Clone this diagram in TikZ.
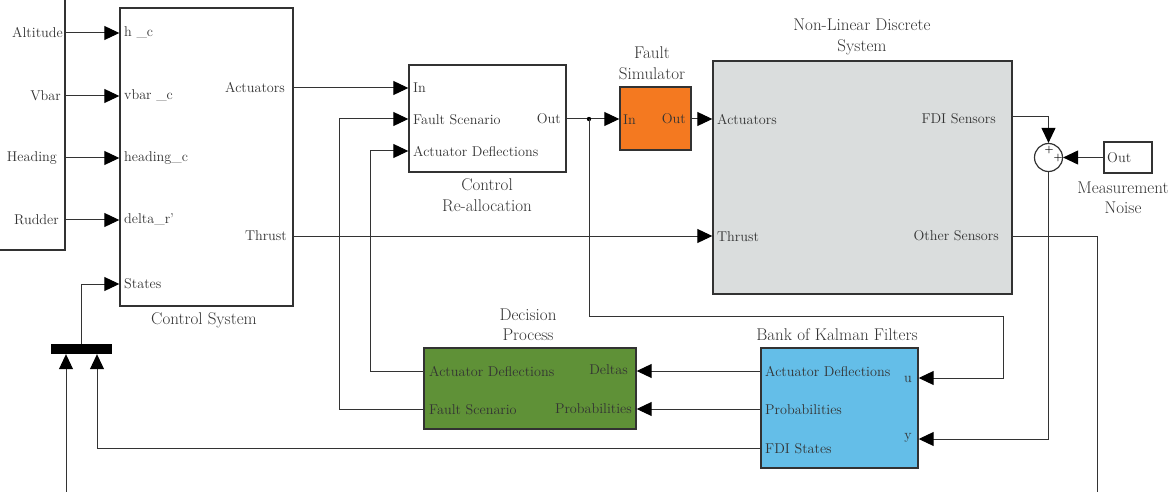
\documentclass[tikz,border=0pt]{standalone}
\usetikzlibrary{arrows.meta}
\definecolor{fsorange}{RGB}{244,121,32}
\definecolor{dpgreen}{RGB}{95,145,55}
\definecolor{kfblue}{RGB}{100,190,232}
\definecolor{nldgray}{RGB}{218,221,221}
\definecolor{ink}{RGB}{50,50,50}
\begin{document}
\begin{tikzpicture}[x=1pt,y=-1pt,
  blk/.style={draw=ink,line width=1.4pt,rectangle,inner sep=0pt},
  wire/.style={draw=black!80,line width=1pt},
  arr/.style={-{Triangle[length=15pt,width=14pt,color=black]}},
  port/.style={font=\fontsize{14.2}{16}\selectfont,inner sep=0pt,text=black!80},
  captxt/.style={font=\fontsize{17}{20.5}\selectfont,inner sep=0pt,align=center,text=black!80}]
\useasboundingbox (0,0) rectangle (1171,492);
\clip (0,0) rectangle (1171,492);
% blocks
\node[blk,minimum width=85pt,minimum height=270pt] (src) at (22.5,115) {};
\node[blk,minimum width=173pt,minimum height=298pt] (cs) at (206.5,157) {};
\node[blk,minimum width=157pt,minimum height=107pt] (cra) at (487.5,118.5) {};
\node[blk,fill=fsorange,minimum width=71pt,minimum height=63pt] (fs) at (655.5,118.5) {};
\node[blk,fill=nldgray,minimum width=299pt,minimum height=233pt] (nld) at (862.5,177.5) {};
\node[blk,fill=dpgreen,minimum width=212pt,minimum height=81pt] (dp) at (530,388.5) {};
\node[blk,fill=kfblue,minimum width=157pt,minimum height=120pt] (kf) at (839.5,408) {};
\node[draw=ink,line width=1.2pt,circle,minimum size=28pt,inner sep=0pt] (sum) at (1048.5,157.5) {};
\node[blk,line width=1.2pt,minimum width=48pt,minimum height=31pt] (mn) at (1128,157.5) {};
\node[fill=black,rectangle,minimum width=61pt,minimum height=10pt,inner sep=0pt] (bus) at (81.5,349) {};
% sum signs
\node[inner sep=0pt,font=\bfseries\fontsize{10}{10}\selectfont] (p1) at (1049,149.5) {+};
\node[inner sep=0pt,font=\bfseries\fontsize{10}{10}\selectfont] (p2) at (1058,157.5) {+};
% source labels
\node[port,anchor=east] (s1) at (63,33) {Altitude};
\node[port,anchor=east] (s2) at (61,96) {Vbar};
\node[port,anchor=east] (s3) at (57,158) {Heading};
\node[port,anchor=east] (s4) at (59,220) {Rudder};
% control system labels
\node[port,anchor=west] (c1) at (124,33) {h \_c};
\node[port,anchor=west] (c2) at (124,96) {vbar \_c};
\node[port,anchor=west] (c3) at (124,158) {heading\_c};
\node[port,anchor=west] (c4) at (124,220) {delta\_r'};
\node[port,anchor=west] (c5) at (124,284) {States};
\node[port,anchor=east] (c6) at (285,88) {Actuators};
\node[port,anchor=east] (c7) at (287,236) {Thrust};
\node[captxt] (cscap) at (204,320) {Control System};
% control re-allocation
\node[port,anchor=west] (r1) at (413,88) {In};
\node[port,anchor=west] (r2) at (413,120) {Fault Scenario};
\node[port,anchor=west] (r3) at (413,152) {Actuator Deflections};
\node[port,anchor=east] (r4) at (561,119) {Out};
\node[captxt] (cracap) at (487,195) {Control\\Re-allocation};
% fault simulator
\node[port,anchor=west] (f1) at (623,120) {In};
\node[port,anchor=east] (f2) at (686,119) {Out};
\node[captxt] (fscap) at (652,63) {Fault\\Simulator};
% non-linear system
\node[port,anchor=west] (n1) at (717,120) {Actuators};
\node[port,anchor=west] (n2) at (717,237) {Thrust};
\node[port,anchor=east] (n3) at (996,119) {FDI Sensors};
\node[port,anchor=east] (n4) at (999,236) {Other Sensors};
\node[captxt] (nldcap) at (862,37) {Non-Linear Discrete\\System};
% decision process
\node[port,anchor=west] (d1) at (429,371) {Actuator Deflections};
\node[port,anchor=west] (d2) at (429,410) {Fault Scenario};
\node[port,anchor=east] (d3) at (628,370) {Deltas};
\node[port,anchor=east] (d4) at (632,409) {Probabilities};
\node[captxt] (dpcap) at (528,325) {Decision\\Process};
% kalman
\node[port,anchor=west] (k1) at (765,371) {Actuator Deflections};
\node[port,anchor=west] (k2) at (765,410) {Probabilities};
\node[port,anchor=west] (k3) at (765,449) {FDI States};
\node[port,anchor=east] (k4) at (912,379) {u};
\node[port,anchor=east] (k5) at (912,438) {y};
\node[captxt] (kfcap) at (837,335) {Bank of Kalman Filters};
% measurement noise
\node[port,anchor=west] (m1) at (1107,158) {Out};
\node[captxt] (mncap) at (1123,198) {Measurement\\Noise};
% coordinates
\coordinate (jn) at (589,119);
\coordinate (b1) at (66,492);
\coordinate (os) at (1097,492);
% wires
\foreach \yy in {33,96,158,220}
  \draw[wire,arr] (src.east |- 0,\yy) -- (cs.west |- 0,\yy);
\draw[wire,arr] (bus.north -| 81,0) |- (cs.west |- 0,284);
\draw[wire,arr] (b1) -- (b1 |- bus.south);
\draw[wire,arr] (kf.west |- 0,448) -| (bus.south -| 97,0);
\draw[wire,arr] (cs.east |- 0,88) -- (cra.west |- 0,88);
\draw[wire,arr] (cs.east |- 0,236) -- (nld.west |- 0,236);
\draw[wire,arr] (cra.east |- jn) -- (fs.west |- jn);
\fill[black] (jn) circle (2.2pt);
\draw[wire,arr] (fs.east |- jn) -- (nld.west |- jn);
\draw[wire,arr] (jn) |- (1003,316) |- (kf.east |- 0,378);
\draw[wire,arr] (nld.east |- 0,117) -| (sum.north);
\draw[wire,arr] (mn.west) -- (sum.east);
\draw[wire,arr] (sum.south) |- (kf.east |- 0,439);
\draw[wire] (nld.east |- 0,236) -| (os);
\draw[wire,arr] (kf.west |- 0,371) -- (dp.east |- 0,371);
\draw[wire,arr] (kf.west |- 0,409) -- (dp.east |- 0,409);
\draw[wire,arr] (dp.west |- 0,371) -| (370,151) -- (cra.west |- 0,151);
\draw[wire,arr] (dp.west |- 0,409) -| (339,119) -- (cra.west |- 0,119);
\end{tikzpicture}
\end{document}
